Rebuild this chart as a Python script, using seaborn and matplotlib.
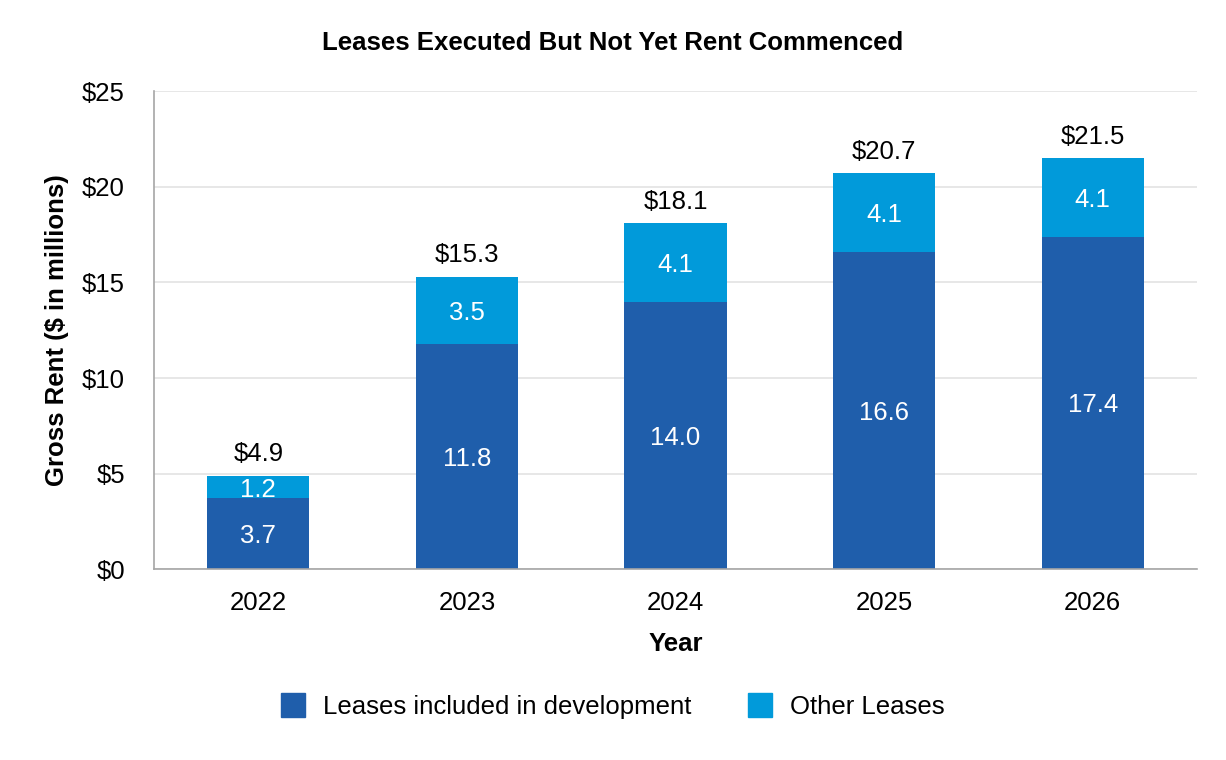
import numpy as np
import pandas as pd
import matplotlib
matplotlib.use("Agg")
import matplotlib.pyplot as plt
import seaborn as sns
from matplotlib.patches import Patch

years = ["2022", "2023", "2024", "2025", "2026"]
dev_leases = [3.7, 11.8, 14.0, 16.6, 17.4]
other_leases = [1.2, 3.5, 4.1, 4.1, 4.1]
totals = [4.9, 15.3, 18.1, 20.7, 21.5]

c_dev = "#1F5EAB"
c_other = "#019ADA"

sns.set_style("white")
plt.rcParams["font.family"] = "sans-serif"
plt.rcParams["font.sans-serif"] = ["Liberation Sans", "Arial", "DejaVu Sans"]
plt.rcParams["text.color"] = "black"
plt.rcParams["axes.labelcolor"] = "black"
plt.rcParams["xtick.color"] = "black"
plt.rcParams["ytick.color"] = "black"

fs = 18.5

df = pd.DataFrame({"year": years, "dev": dev_leases, "other": other_leases, "total": totals})

fig = plt.figure(figsize=(12.26, 7.6), dpi=100)
ax = fig.add_axes([0.1256, 0.251, 0.8508, 0.629])

sns.barplot(data=df, x="year", y="dev", color=c_dev, width=0.49, ax=ax,
            saturation=1, linewidth=0)
sns.barplot(data=df, x="year", y="other", color=c_other, width=0.49, ax=ax,
            saturation=1, linewidth=0, bottom=df["dev"].values)

for i, row in df.iterrows():
    ax.text(i, row["dev"] / 2, f"{row['dev']:.1f}", ha="center", va="center_baseline",
            color="white", fontsize=fs)
    ax.text(i, row["dev"] + row["other"] / 2, f"{row['other']:.1f}", ha="center",
            va="center_baseline", color="white", fontsize=fs)
    ax.text(i, row["total"] + 0.5, f"${row['total']:.1f}", ha="center", va="bottom",
            color="black", fontsize=fs)

ax.set_ylim(0, 25)
ax.set_xlim(-0.5, 4.5)
ax.set_yticks([0, 5, 10, 15, 20, 25])
ax.set_yticklabels([f"${v}" for v in [0, 5, 10, 15, 20, 25]], fontsize=fs)
ax.tick_params(axis="x", labelsize=fs, length=0, pad=16)
ax.tick_params(axis="y", length=0, pad=21)
ax.yaxis.grid(True, color="#E3E3E3", linewidth=1.2)
ax.set_axisbelow(True)
for s in ["top", "right"]:
    ax.spines[s].set_visible(False)
for s in ["left", "bottom"]:
    ax.spines[s].set_color("#A6A6A6")
    ax.spines[s].set_linewidth(1.2)

ax.set_xlabel("Year", fontsize=fs, fontweight="bold", labelpad=12)
ax.set_ylabel("Gross Rent ($ in millions)", fontsize=fs, fontweight="bold", labelpad=9)
fig.text(0.5, 0.943, "Leases Executed But Not Yet Rent Commenced", ha="center", va="center",
         fontsize=18.5, fontweight="bold")

handles = [Patch(color=c_dev, label="Leases included in development"),
           Patch(color=c_other, label="Other Leases")]
fig.legend(handles=handles, loc="center", bbox_to_anchor=(0.5, 0.071), ncol=2, frameon=False,
           fontsize=fs, handlelength=0.93, handleheight=1.05, columnspacing=2.2,
           handletextpad=0.7)

fig.savefig("out.png", dpi=100)
